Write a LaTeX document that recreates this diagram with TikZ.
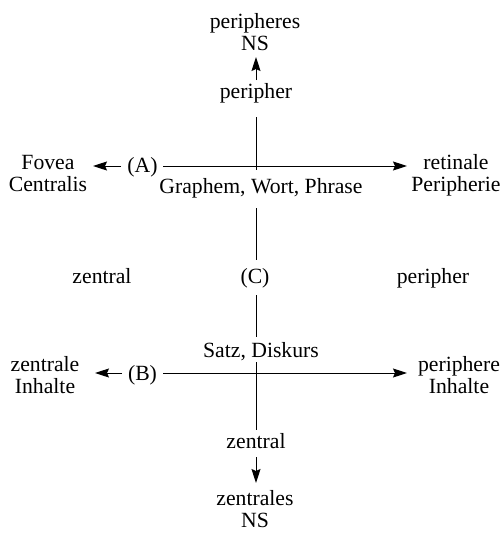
\documentclass[tikz,border=0pt]{standalone}
\usepackage{fontspec}
\setmainfont{Liberation Serif}
\usetikzlibrary{arrows.meta}
\begin{document}
\begin{tikzpicture}[x=1pt,y=-1pt,
  lbl/.style={inner sep=0pt,align=center,anchor=base,font=\fontsize{21.7}{22}\selectfont},
  ln/.style={line width=1pt},
  arr/.style={line width=1pt,-{Stealth[length=14pt,width=9pt,inset=2pt]}}]
\useasboundingbox (0,0) rectangle (503,533);
% top
\node[lbl] (pns) at (255,50) {peripheres\\NS};
\node[lbl] (pt) at (256,98) {peripher};
% A row
\node[lbl] (fov) at (48,191) {Fovea\\Centralis};
\node[lbl] (A) at (142.5,172) {(A)};
\node[lbl] (ret) at (456,191) {retinale\\Peripherie};
\node[lbl] (gr) at (261,193) {Graphem, Wort, Phrase};
% C row
\node[lbl] (zl) at (102,283) {zentral};
\node[lbl] (C) at (255,283) {(C)};
\node[lbl] (pr) at (433,283) {peripher};
% B row
\node[lbl] (sd) at (261,357) {Satz, Diskurs};
\node[lbl] (zi) at (45,393) {zentrale\\Inhalte};
\node[lbl] (B) at (142.5,380) {(B)};
\node[lbl] (pi) at (459,393) {periphere\\Inhalte};
% bottom
\node[lbl] (zb) at (256,448) {zentral};
\node[lbl] (zns) at (255,527) {zentrales\\NS};
% coordinates
\coordinate (a1) at (256,80); \coordinate (a2) at (256,57);
\coordinate (v1) at (256,117); \coordinate (v2) at (256,170);
\coordinate (v3) at (256,208); \coordinate (v4) at (256,260);
\coordinate (v5) at (256,295); \coordinate (v6) at (256,337);
\coordinate (v7) at (256,362); \coordinate (v8) at (256,430);
\coordinate (d1) at (256,457); \coordinate (d2) at (256,483);
\coordinate (ha1) at (163,166); \coordinate (ha2) at (407,166);
\coordinate (la1) at (121,166); \coordinate (la2) at (93,166);
\coordinate (hb1) at (163,373); \coordinate (hb2) at (407,373);
\coordinate (lb1) at (122,373); \coordinate (lb2) at (95,373);
% connectors
\draw[arr] (a1) -- (a2);
\draw[ln] (v1) -- (v2);
\draw[ln] (v3) -- (v4);
\draw[ln] (v5) -- (v6);
\draw[ln] (v7) -- (v8);
\draw[arr] (d1) -- (d2);
\draw[arr] (ha1) -- (ha2);
\draw[arr] (la1) -- (la2);
\draw[arr] (hb1) -- (hb2);
\draw[arr] (lb1) -- (lb2);
\end{tikzpicture}
\end{document}
